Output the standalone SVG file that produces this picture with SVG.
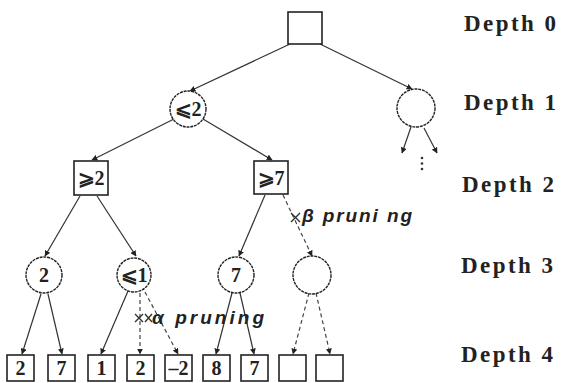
<svg xmlns="http://www.w3.org/2000/svg" width="573" height="383" viewBox="0 0 573 383">
<defs>
<style>
.n{fill:#fff;stroke:#222;stroke-width:1.6}
.c{fill:#fff;stroke:#222;stroke-width:1.4;stroke-dasharray:3 0.8}
.e{stroke:#333;stroke-width:1.2;fill:none;marker-end:url(#ah)}
.d{stroke:#444;stroke-width:1.2;fill:none;stroke-dasharray:4 3;marker-end:url(#ah)}
.v{font-family:"Liberation Serif","DejaVu Serif",serif;font-weight:bold;font-size:20px;fill:#222;text-anchor:middle}
.dep{font-family:"Liberation Serif","DejaVu Serif",serif;font-weight:bold;font-size:23px;fill:#222}
.p{font-family:"Liberation Sans","DejaVu Sans",sans-serif;font-weight:bold;font-style:italic;font-size:19px;fill:#222}
.x{stroke:#333;stroke-width:1.4}
</style>
<marker id="ah" viewBox="0 0 10 10" refX="9" refY="5" markerWidth="6" markerHeight="6" orient="auto" markerUnits="userSpaceOnUse">
<path d="M0,0 L10,5 L0,10 z" fill="#222"/>
</marker>
</defs>
<rect width="573" height="383" fill="#fff"/>
<g id="connectors">
<line class="e" x1="290" y1="44" x2="190" y2="91"/>
<line class="e" x1="320" y1="44" x2="412" y2="89"/>
<line class="e" x1="174" y1="119" x2="92" y2="160"/>
<line class="e" x1="203" y1="119" x2="272" y2="160"/>
<line class="e" x1="411" y1="127" x2="402" y2="153"/>
<line class="e" x1="424" y1="128" x2="437" y2="153"/>
<line class="e" x1="80" y1="196" x2="45" y2="256"/>
<line class="e" x1="97" y1="196" x2="136" y2="256"/>
<line class="e" x1="265" y1="195" x2="239" y2="256"/>
<line class="d" x1="283" y1="195" x2="312" y2="256"/>
<line class="e" x1="41" y1="294" x2="22" y2="354"/>
<line class="e" x1="48" y1="294" x2="62" y2="354"/>
<line class="e" x1="128" y1="291" x2="101" y2="354"/>
<line class="d" x1="140" y1="293" x2="140" y2="354"/>
<line class="d" x1="145" y1="292" x2="178" y2="354"/>
<line class="e" x1="232" y1="293" x2="216" y2="354"/>
<line class="e" x1="240" y1="293" x2="254" y2="354"/>
<line class="d" x1="309" y1="293" x2="293" y2="354"/>
<line class="d" x1="316" y1="293" x2="330" y2="354"/>
</g>
<g id="dots"><circle cx="422" cy="158" r="1.3" fill="#333"/><circle cx="422" cy="163.5" r="1.3" fill="#333"/><circle cx="422" cy="169" r="1.3" fill="#333"/></g>
<g id="root"><rect class="n" x="288" y="12" width="34" height="32"/></g>
<g id="d1a"><circle class="c" cx="188" cy="109" r="18"/><text class="v" x="188" y="116">⩽2</text></g>
<g id="d1b"><circle class="c" cx="416" cy="108" r="19"/></g>
<g id="d2a"><rect class="n" x="74" y="161" width="34" height="34"/><text class="v" x="91" y="185">⩾2</text></g>
<g id="d2b"><rect class="n" x="254" y="161" width="34" height="33"/><text class="v" x="271" y="185">⩾7</text></g>
<g id="d3a"><circle class="c" cx="44" cy="275" r="18"/><text class="v" x="44" y="282">2</text></g>
<g id="d3b"><circle class="c" cx="134" cy="275" r="17"/><text class="v" x="134" y="282">⩽1</text></g>
<g id="d3c"><circle class="c" cx="236" cy="275" r="18"/><text class="v" x="236" y="282">7</text></g>
<g id="d3d"><circle class="c" cx="312" cy="275" r="19"/></g>
<g id="l1"><rect class="n" x="7" y="355" width="27" height="26"/><text class="v" x="20.5" y="375">2</text></g>
<g id="l2"><rect class="n" x="48" y="355" width="27" height="26"/><text class="v" x="61.5" y="375">7</text></g>
<g id="l3"><rect class="n" x="88" y="355" width="27" height="26"/><text class="v" x="101.5" y="375">1</text></g>
<g id="l4"><rect class="n" x="127" y="355" width="27" height="26"/><text class="v" x="140.5" y="375">2</text></g>
<g id="l5"><rect class="n" x="165" y="355" width="27" height="26"/><text class="v" x="178.5" y="375">–2</text></g>
<g id="l6"><rect class="n" x="203" y="355" width="27" height="26"/><text class="v" x="216.5" y="375">8</text></g>
<g id="l7"><rect class="n" x="241" y="355" width="27" height="26"/><text class="v" x="254.5" y="375">7</text></g>
<g id="l8"><rect class="n" x="279" y="355" width="27" height="26"/></g>
<g id="l9"><rect class="n" x="316" y="355" width="27" height="26"/></g>
<g id="pruning">
<path class="x" d="M291,213 L300,222 M300,213 L291,222"/>
<text class="p" x="302" y="222" textLength="110" lengthAdjust="spacing">β pruni ng</text>
<path class="x" d="M135,314 L143,322 M143,314 L135,322"/>
<path class="x" d="M145,314 L152,322 M152,314 L145,322"/>
<text class="p" x="152" y="324" textLength="112" lengthAdjust="spacing">α pruning</text>
</g>
<g id="labels">
<text class="dep" x="464" y="31" textLength="92" lengthAdjust="spacing">Depth 0</text>
<text class="dep" x="464" y="110" textLength="92" lengthAdjust="spacing">Depth 1</text>
<text class="dep" x="462" y="192" textLength="92" lengthAdjust="spacing">Depth 2</text>
<text class="dep" x="461" y="273" textLength="92" lengthAdjust="spacing">Depth 3</text>
<text class="dep" x="461" y="362" textLength="92" lengthAdjust="spacing">Depth 4</text>
</g>
</svg>
